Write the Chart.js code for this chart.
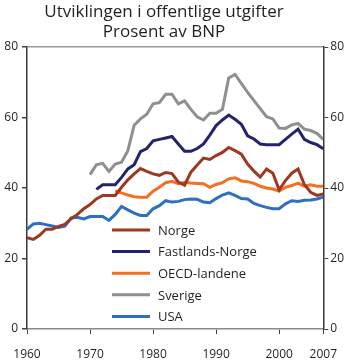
<!DOCTYPE html>
<html>
<head>
<meta charset="utf-8">
<script src="https://cdn.jsdelivr.net/npm/chart.js@4.4.1/dist/chart.umd.min.js"></script>
<style>
  html, body { margin: 0; padding: 0; background: #fff; overflow: hidden; }
  canvas { display: block; }
</style>
</head>
<body>
<canvas id="chart" width="350" height="360"></canvas>
<script>
Chart.defaults.font.family = "'Open Sans', sans-serif";
Chart.defaults.color = '#231f20';

const titleLines = ['Utviklingen i offentlige utgifter', 'Prosent av BNP'];

const years = [1960, 1961, 1962, 1963, 1964, 1965, 1966, 1967, 1968, 1969,
               1970, 1971, 1972, 1973, 1974, 1975, 1976, 1977, 1978, 1979,
               1980, 1981, 1982, 1983, 1984, 1985, 1986, 1987, 1988, 1989,
               1990, 1991, 1992, 1993, 1994, 1995, 1996, 1997, 1998, 1999,
               2000, 2001, 2002, 2003, 2004, 2005, 2006, 2007];
const xTickYears = [1960, 1970, 1980, 1990, 2000, 2007];
const yTicks = [0, 20, 40, 60, 80];

const seriesNames = ['Norge', 'Fastlands-Norge', 'OECD-landene', 'Sverige', 'USA'];
const seriesColors = ['#9e3820', '#24246e', '#f36f21', '#8f8f8f', '#2f6fc0'];

const norge = [25.9, 25.4, 26.6, 28.3, 28.3, 29.1, 29.7, 31.3, 32.5, 34.1,
               35.3, 36.9, 37.9, 37.9, 37.9, 40.2, 42.3, 44.0, 45.5, 44.7,
               44.0, 43.6, 44.4, 44.1, 41.7, 40.8, 44.5, 46.5, 48.5, 48.1,
               49.2, 50.1, 51.5, 50.6, 49.6, 46.8, 44.8, 43.1, 45.4, 44.2,
               39.5, 42.1, 44.2, 45.4, 41.0, 38.8, 37.9, 38.3];
const fastland = [null, null, null, null, null, null, null, null, null, null,
                  null, 39.6, 40.9, 40.9, 40.9, 43.0, 45.4, 46.6, 50.3, 51.2,
                  53.4, 53.8, 54.2, 54.6, 52.5, 50.4, 50.4, 51.2, 52.5, 55.0,
                  57.7, 59.3, 60.7, 59.5, 58.1, 54.8, 53.9, 52.5, 52.3, 52.3,
                  52.3, 53.8, 55.3, 56.7, 53.8, 52.9, 52.3, 51.1];
const oecd = [null, null, null, null, null, null, null, null, null, null,
              null, null, null, null, 39.2, 38.6, 38.0, 37.5, 37.4, 37.4,
              39.1, 40.2, 41.5, 41.9, 41.2, 41.6, 41.4, 41.3, 41.2, 40.2,
              41.0, 41.5, 42.6, 42.9, 42.0, 41.8, 41.3, 40.5, 40.0, 39.7,
              39.1, 40.2, 40.7, 41.4, 40.5, 40.9, 40.5, 40.5];
const sverige = [null, null, null, null, null, null, null, null, null, null,
                 43.8, 46.6, 47.0, 44.7, 46.8, 47.3, 50.6, 57.8, 59.6, 60.9,
                 63.9, 64.2, 66.6, 66.6, 63.9, 64.7, 62.3, 60.2, 59.3, 61.2,
                 61.2, 62.3, 71.2, 72.2, 69.7, 67.1, 64.8, 62.5, 60.2, 59.6,
                 57.0, 56.9, 57.9, 58.3, 56.7, 56.3, 55.5, 53.8];
const usa = [28.3, 29.8, 30.0, 29.6, 29.2, 28.8, 29.2, 31.5, 31.7, 31.2,
             31.9, 31.9, 31.9, 30.8, 32.5, 34.8, 33.8, 32.9, 32.2, 32.2,
             34.1, 35.0, 36.4, 36.0, 36.2, 36.7, 36.9, 36.8, 36.0, 35.8,
             37.0, 38.0, 38.6, 37.9, 37.0, 36.9, 35.6, 35.0, 34.5, 34.1,
             34.1, 35.5, 36.4, 36.2, 36.5, 36.6, 36.9, 37.4];

const seriesValues = [norge, fastland, oecd, sverige, usa];

// title sits a bit left of centre in the original, so draw it by hand
const titleBlock = {
    id: 'titleBlock',
    afterDraw(chart) {
        const { ctx } = chart;
        ctx.save();
        ctx.font = "17px 'Open Sans', sans-serif";
        ctx.fillStyle = '#231f20';
        ctx.textAlign = 'center';
        ctx.textBaseline = 'alphabetic';
        titleLines.forEach((t, i) => ctx.fillText(t, 164, 17 + i * 19.5));
        ctx.restore();
    }
};

// legend drawn inside the plot, below the lines
const legendInside = {
    id: 'legendInside',
    afterDatasetsDraw(chart) {
        const { ctx, chartArea } = chart;
        ctx.save();
        ctx.font = "13px 'Open Sans', sans-serif";
        ctx.textBaseline = 'middle';
        ctx.fillStyle = '#231f20';
        chart.data.datasets.forEach((ds, i) => {
            const y = chartArea.top + 183 + i * 21.6;
            const x0 = chartArea.left + 85;
            ctx.strokeStyle = ds.borderColor;
            ctx.lineWidth = 3;
            ctx.beginPath();
            ctx.moveTo(x0, y);
            ctx.lineTo(x0 + 38, y);
            ctx.stroke();
            ctx.fillText(ds.label, x0 + 46, y + 1);
        });
        ctx.restore();
    }
};

const yTickSetter = (scale) => { scale.ticks = yTicks.map(v => ({ value: v })); };

new Chart(document.getElementById('chart'), {
    type: 'line',
    data: {
        labels: years,
        datasets: seriesNames.map((name, i) => ({
            label: name,
            data: seriesValues[i],
            borderColor: seriesColors[i],
            backgroundColor: seriesColors[i],
            borderWidth: 3,
            pointRadius: 0,
            tension: 0,
            spanGaps: false
        }))
    },
    options: {
        responsive: false,
        animation: false,
        layout: { padding: { top: 47, left: 0, right: 0, bottom: 0 } },
        scales: {
            x: {
                type: 'linear', min: 1960, max: 2007,
                afterBuildTicks: (scale) => { scale.ticks = xTickYears.map(v => ({ value: v })); },
                afterFit: (scale) => { scale.height = 31; },
                ticks: { font: { size: 12 }, padding: 13, maxRotation: 0, callback: (v) => String(v) },
                grid: { drawOnChartArea: false, tickColor: '#444', tickLength: 5 },
                border: { color: '#8a8a8a', width: 1.5 }
            },
            y: {
                position: 'left', min: 0, max: 80,
                afterBuildTicks: yTickSetter,
                afterFit: (scale) => { scale.width = 27; },
                ticks: { font: { size: 12 }, padding: 4 },
                grid: {
                    color: (c) => c.tick && c.tick.value === 80 ? '#9a9a9a' : 'rgba(0,0,0,0)',
                    lineWidth: 1.5, tickColor: '#444', tickLength: 5
                },
                border: { color: '#3a3a3a', width: 1.5 }
            },
            y1: {
                display: true,
                position: 'right', min: 0, max: 80,
                afterBuildTicks: yTickSetter,
                afterFit: (scale) => { scale.width = 23; },
                ticks: { font: { size: 12 }, padding: 2 },
                grid: { drawOnChartArea: false, tickColor: '#444', tickLength: 5 },
                border: { color: '#3a3a3a', width: 1.5 }
            }
        },
        plugins: {
            legend: { display: false },
            tooltip: { enabled: false },
            title: { display: false }
        }
    },
    plugins: [legendInside, titleBlock]
});
</script>
</body>
</html>
